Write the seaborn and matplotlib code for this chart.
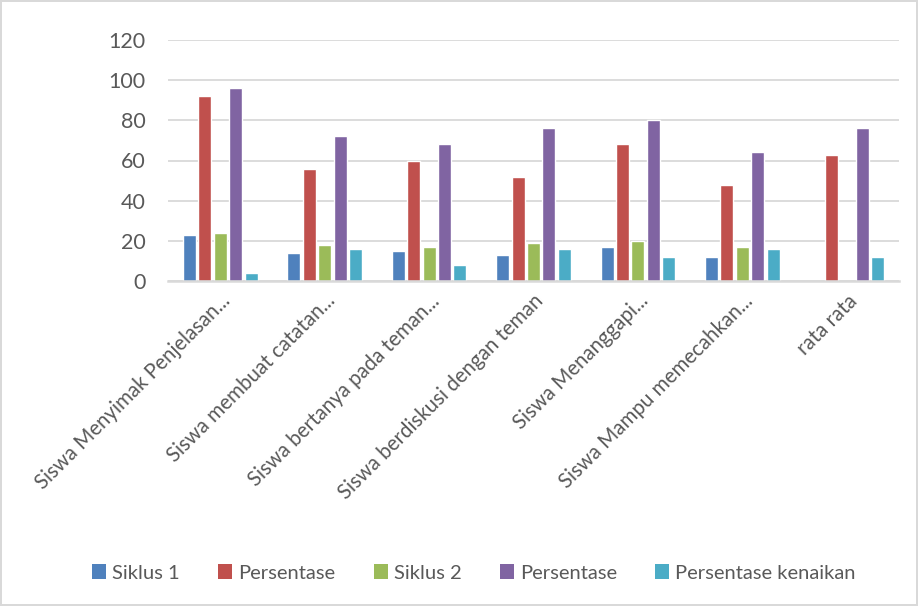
import numpy as np
import pandas as pd
import matplotlib
matplotlib.use("Agg")
import matplotlib.pyplot as plt
import seaborn as sns
from matplotlib.patches import Patch

categories = [
    "Siswa Menyimak Penjelasan...",
    "Siswa membuat catatan...",
    "Siswa bertanya pada teman...",
    "Siswa berdiskusi dengan teman",
    "Siswa Menanggapi...",
    "Siswa Mampu memecahkan...",
    "rata rata",
]
series_names = ["Siklus 1", "Persentase", "Siklus 2", "Persentase", "Persentase kenaikan"]
siklus1 = [23, 14, 15, 13, 17, 12, np.nan]
persentase1 = [92, 56, 60, 52, 68, 48, 62.67]
siklus2 = [24, 18, 17, 19, 20, 17, np.nan]
persentase2 = [96, 72, 68, 76, 80, 64, 76]
kenaikan = [4, 16, 8, 16, 12, 16, 12]
colors = ["#4F81BD", "#C0504D", "#9BBB59", "#8064A2", "#4BACC6"]

sns.set_theme(style="white")
plt.rcParams["font.family"] = ["Lato", "DejaVu Sans"]

all_series = [siklus1, persentase1, siklus2, persentase2, kenaikan]
keys = [f"s{i}" for i in range(len(all_series))]
rows = []
for k, vals in zip(keys, all_series):
    for c, v in zip(categories, vals):
        rows.append({"cat": c, "key": k, "val": v})
df = pd.DataFrame(rows)

fig = plt.figure(figsize=(9.18, 6.06), dpi=100)
fig.patch.set_edgecolor("#d9d9d9")
fig.patch.set_linewidth(1.5)
ax = fig.add_axes([168/918, 1-281/606, (899-168)/918, (281-40)/606])

sns.barplot(data=df, x="cat", y="val", hue="key", hue_order=keys,
            palette=dict(zip(keys, colors)), width=0.74, gap=0.16,
            ax=ax, legend=False, saturation=1, errorbar=None)

ax.set_ylim(0, 120)
ax.set_yticks(range(0, 121, 20))
ax.set_xlim(-0.5, len(categories) - 0.5)
ax.yaxis.grid(True, color="#d9d9d9", linewidth=1.3)
ax.set_axisbelow(True)
for s in ["top", "right", "left"]:
    ax.spines[s].set_visible(False)
ax.spines["bottom"].set_color("#d9d9d9")
ax.spines["bottom"].set_linewidth(1.8)
ax.tick_params(axis="both", length=0, colors="#595959")
ax.tick_params(axis="y", labelsize=15.5, pad=16)
ax.set_xlabel("")
ax.set_ylabel("")
ax.set_xticks(range(len(categories)))
ax.set_xticklabels(categories, rotation=45, ha="right", rotation_mode="anchor",
                   fontsize=14.8, color="#595959")
ax.tick_params(axis="x", pad=7)

handles = [Patch(facecolor=c, edgecolor="none") for c in colors]
fig.legend(handles, series_names, loc="center", bbox_to_anchor=(474/918, 1-573/606),
           ncol=5, frameon=False, fontsize=14.5, handlelength=0.7, handleheight=0.7,
           handletextpad=0.3, columnspacing=1.9, labelcolor="#595959")

fig.savefig("out.png", dpi=100, edgecolor=fig.get_edgecolor())
